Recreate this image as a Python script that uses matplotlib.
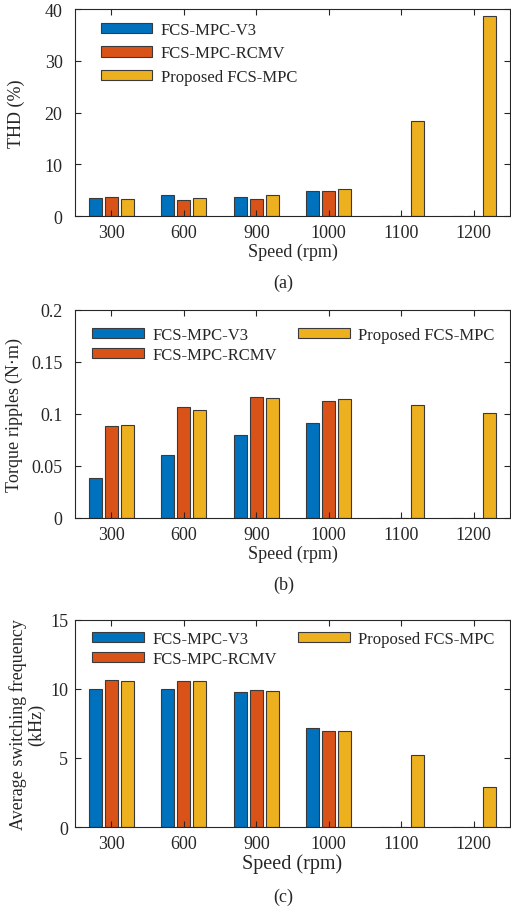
import matplotlib
matplotlib.use("Agg")
import matplotlib.pyplot as plt
import numpy as np

speeds = ['300', '600', '900', '1000', '1100', '1200']
series = ['FCS-MPC-V3', 'FCS-MPC-RCMV', 'Proposed FCS-MPC']
colors = ['#0072BD', '#D95319', '#EDB120']

thd_v3 = [3.5, 4.0, 3.6, 4.8, 0, 0]
thd_rcmv = [3.7, 3.15, 3.2, 4.9, 0, 0]
thd_prop = [3.3, 3.4, 4.0, 5.15, 18.3, 38.6]

torque_v3 = [0.038, 0.061, 0.080, 0.091, 0, 0]
torque_rcmv = [0.088, 0.107, 0.1167, 0.1122, 0, 0]
torque_prop = [0.0897, 0.1035, 0.1154, 0.1141, 0.1087, 0.1006]

freq_v3 = [10.0, 10.0, 9.81, 7.14, 0, 0]
freq_rcmv = [10.63, 10.61, 9.91, 6.92, 0, 0]
freq_prop = [10.61, 10.61, 9.89, 6.95, 5.21, 2.89]

plt.rcParams['font.family'] = ['Liberation Serif', 'DejaVu Serif']
plt.rcParams['font.size'] = 13
text_col = '#262626'

fig = plt.figure(figsize=(5.11, 9.12), dpi=100)
x = np.arange(1, len(speeds) + 1)
offs = [-0.22, 0.0, 0.22]
width = 0.18


def panel(rect, data, ylim, yticks, yticklabels, ylabel, ylab_x, ypad,
          xlab_size, ncol, leg_anchor, spacing):
    ax = fig.add_axes(rect)
    for i, vals in enumerate(data):
        ax.bar(x + offs[i], vals, width, color=colors[i], edgecolor='#3a3a3a',
               linewidth=0.8, label=series[i])
    ax.set_xlim(0.5, 6.5)
    ax.set_ylim(*ylim)
    ax.set_xticks(x)
    ax.set_xticklabels(speeds)
    ax.set_yticks(yticks)
    ax.set_yticklabels(yticklabels)
    ax.tick_params(direction='in', top=True, right=True, length=4,
                   colors=text_col, labelsize=13)
    ax.tick_params(axis='x', pad=6)
    ax.tick_params(axis='y', pad=ypad)
    for s in ax.spines.values():
        s.set_color(text_col)
        s.set_linewidth(0.8)
    ax.set_xlabel('Speed (rpm)', fontsize=xlab_size, color=text_col, labelpad=1)
    ax.set_ylabel(ylabel, fontsize=13, color=text_col, linespacing=1.05)
    ax.yaxis.set_label_coords(ylab_x, 0.5)
    ax.legend(loc='upper left', bbox_to_anchor=leg_anchor, ncol=ncol,
              frameon=False, fontsize=12, handlelength=3.1, handleheight=0.6,
              labelspacing=spacing, columnspacing=1.3, handletextpad=0.5,
              labelcolor=text_col, borderaxespad=0)
    return ax


rect_w = (510 - 75) / 511
panel([75 / 511, 0.762, rect_w, 0.227], [thd_v3, thd_rcmv, thd_prop],
      (0, 40), [0, 10, 20, 30, 40], ['0', '10', '20', '30', '40'],
      'THD (%)', -0.115, 9, 13, 1, (0.044, 0.97), 0.45)
panel([75 / 511, 0.431, rect_w, 0.228], [torque_v3, torque_rcmv, torque_prop],
      (0, 0.2), [0, 0.05, 0.1, 0.15, 0.2], ['0', '0.05', '0.1', '0.15', '0.2'],
      'Torque ripples (N$\\cdot$m)', -0.115, 9, 13, 2, (0.024, 0.95), 0.24)
panel([75 / 511, 0.0921, rect_w, 0.227], [freq_v3, freq_rcmv, freq_prop],
      (0, 15), [0, 5, 10, 15], ['0', '5', '10', '15'],
      'Average switching frequency\n(kHz)', -0.068, 5, 14.5, 2, (0.024, 0.98), 0.24)

fig.text(0.555, 1 - 283 / 912, '(a)', ha='center', va='center', fontsize=13, color=text_col)
fig.text(0.555, 1 - 585 / 912, '(b)', ha='center', va='center', fontsize=13, color=text_col)
fig.text(0.555, 1 - 897 / 912, '(c)', ha='center', va='center', fontsize=13, color=text_col)

fig.savefig('out.png', dpi=100)
